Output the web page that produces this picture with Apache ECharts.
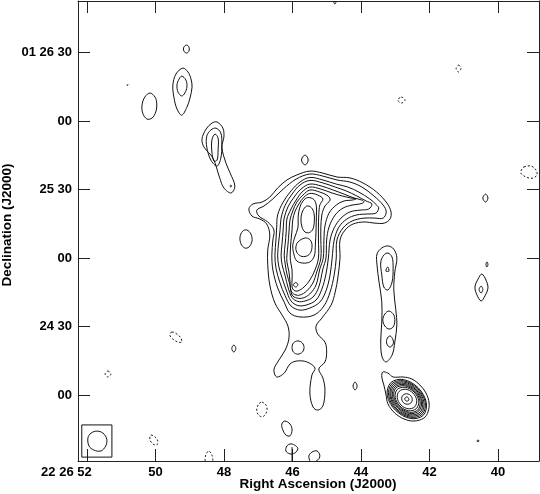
<!DOCTYPE html>
<html>
<head>
<meta charset="utf-8">
<script src="https://cdn.jsdelivr.net/npm/echarts@6/dist/echarts.min.js"></script>
<style>html,body{margin:0;padding:0;background:#fff}#chart{width:540px;height:494px}</style>
</head>
<body>
<div id="chart"></div>
<script>
// ---- axes (RA seconds of 22h26m, Dec arcsec offset from +01 24 00) ----
const xTickValues = [52, 50, 48, 46, 44, 42, 40];
const xTickLabels = ['22 26 52', '50', '48', '46', '44', '42', '40'];
const yTickValues = [150, 120, 90, 60, 30, 0];
const yTickLabels = ['01 26 30', '00', '25 30', '00', '24 30', '00'];
const raRange = [38.80, 52.26];
const decRange = [-28.9, 172.6];

// ---- contours, [RA s, Dec offset arcsec] ----
const blobA = [[49.09,153.3],[49.02,152.4],[49.02,150.7],[49.09,149.8],[49.17,150.7],[49.17,152.4]];
const blobB1 = [[49.20,143.2],[49.05,141.5],[48.96,138.4],[48.93,134.9],[48.99,130.1],[49.08,126.1],[49.23,122.6],[49.37,125.3],[49.46,130.5],[49.49,135.8],[49.40,140.6]];
const blobB2 = [[49.23,139.7],[49.11,138.0],[49.08,134.9],[49.14,132.3],[49.23,131.0],[49.34,132.7],[49.37,135.8],[49.31,138.4]];
const blobC = [[50.16,132.3],[50.01,130.5],[49.96,127.5],[49.99,124.0],[50.10,121.3],[50.25,120.9],[50.37,123.5],[50.39,127.0],[50.31,130.5]];
const blobD1 = [[48.20,119.6],[48.03,116.9],[48.00,113.0],[48.06,108.6],[47.94,101.6],[47.82,97.3],[47.68,91.5],[47.79,88.5],[48.00,90.7],[48.12,95.0],[48.32,103.8],[48.58,108.6],[48.64,112.1],[48.52,116.5],[48.35,119.1]];
const blobD2 = [[48.23,116.9],[48.09,114.8],[48.06,109.5],[48.09,103.8],[48.20,100.3],[48.38,102.9],[48.50,108.6],[48.50,113.4],[48.38,116.1]];
const blobD3 = [[48.26,114.3],[48.17,112.5],[48.17,107.3],[48.20,102.9],[48.29,102.5],[48.35,106.4],[48.35,111.7]];
const dotD = [[47.80,92.0],[47.78,91.5],[47.80,91.1],[47.82,91.5]];
const topDot = [[44.76,172.6],[44.73,171.9],[44.76,171.3],[44.79,171.9]];
const blobE = [[45.63,105.1],[45.55,103.8],[45.55,102.1],[45.63,100.8],[45.72,102.1],[45.72,103.8]];
const blobF = [[47.33,72.3],[47.21,70.5],[47.18,67.4],[47.27,64.8],[47.39,64.4],[47.50,66.2],[47.53,69.2],[47.45,71.8]];
const blobG4 = [[40.36,88.0],[40.29,86.3],[40.36,84.5],[40.44,86.3]];
const blobI2 = [[47.71,21.9],[47.65,20.4],[47.71,18.8],[47.77,20.4]];
const blobJ1 = [[44.17,5.7],[44.11,3.9],[44.17,2.2],[44.23,3.9]];
const blobJ2 = [[40.32,58.3],[40.29,57.2],[40.32,56.1],[40.35,57.2]];
const blobJ3 = [[40.47,53.0],[40.35,50.4],[40.29,46.9],[40.38,43.4],[40.49,41.2],[40.61,43.8],[40.67,47.3],[40.58,50.8]];
const blobJ3b = [[40.49,47.7],[40.44,46.2],[40.49,44.7],[40.55,46.2]];
const blobJ4 = [[40.58,-19.7],[40.55,-20.1],[40.58,-20.5],[40.61,-20.1]];
const blobJ5 = [[46.22,-11.4],[46.07,-12.7],[46.01,-15.3],[46.07,-17.9],[46.19,-17.5],[46.28,-15.3],[46.31,-12.7]];
const blobJ6 = [[46.04,-21.4],[45.90,-22.3],[45.84,-23.6],[45.93,-25.4],[46.07,-25.8],[46.19,-24.5],[46.16,-22.3]];
const beamEllipse = [[51.71,-15.8],[51.53,-16.7],[51.42,-19.3],[51.45,-22.3],[51.59,-24.5],[51.80,-24.1],[51.94,-22.3],[51.97,-18.8],[51.88,-16.7]];
const beamBox = [[52.15,-13.1],[51.27,-13.1],[51.27,-27.2],[52.15,-27.2]];

// jet near RA 43 s
const jetK1 = [[43.21,65.3],[43.04,63.9],[42.95,60.0],[43.01,53.9],[43.04,46.0],[42.98,37.3],[42.95,30.7],[43.01,23.2],[43.09,17.5],[43.27,14.5],[43.39,17.1],[43.42,24.1],[43.39,32.0],[43.39,40.8],[43.47,49.5],[43.53,57.0],[43.53,61.8],[43.39,64.4]];
const jetK2 = [[43.21,62.2],[43.09,60.4],[43.06,55.6],[43.09,49.5],[43.21,46.0],[43.33,47.3],[43.39,52.6],[43.42,58.3],[43.33,61.3]];
const jetK3 = [[43.22,56.1],[43.18,54.3],[43.27,54.3]];
const jetK4 = [[43.18,36.8],[43.04,35.1],[43.01,32.4],[43.06,29.8],[43.18,28.9],[43.30,30.2],[43.36,32.9],[43.30,35.5]];
const jetK5 = [[43.15,25.9],[43.06,24.1],[43.06,22.3],[43.15,21.0],[43.24,22.3],[43.24,24.5]];

// compact source near RA 42.7 s
const cmp1 = [[43.36,10.1],[43.21,9.6],[43.06,7.9],[42.77,7.9],[42.51,7.0],[42.28,4.4],[42.10,0.9],[42.01,-3.5],[42.04,-7.4],[42.16,-10.1],[42.45,-11.4],[42.74,-10.5],[43.01,-7.9],[43.21,-3.9],[43.27,0.4],[43.33,4.4],[43.39,7.9]];
const cmp2 = [[42.18,-8.89],[42.09,-3.28],[42.33,3.20],[42.76,6.79],[43.13,5.39],[43.23,-0.22],[42.99,-6.70],[42.55,-10.29]];
const cmp3 = [[42.21,-8.41],[42.12,-3.17],[42.35,2.90],[42.75,6.24],[43.10,4.91],[43.19,-0.33],[42.97,-6.40],[42.56,-9.74]];
const cmp4 = [[42.24,-7.94],[42.16,-3.06],[42.37,2.59],[42.74,5.70],[43.07,4.44],[43.15,-0.44],[42.95,-6.09],[42.57,-9.20]];
const cmp5 = [[42.27,-7.48],[42.20,-2.95],[42.39,2.28],[42.74,5.15],[43.04,3.98],[43.12,-0.55],[42.92,-5.78],[42.58,-8.65]];
const cmp6 = [[42.31,-7.01],[42.23,-2.85],[42.41,1.97],[42.73,4.60],[43.01,3.51],[43.08,-0.65],[42.90,-5.47],[42.58,-8.10]];
const cmp7 = [[42.34,-6.55],[42.27,-2.74],[42.43,1.66],[42.72,4.05],[42.98,3.05],[43.04,-0.76],[42.88,-5.16],[42.59,-7.55]];
const cmp8 = [[42.38,-5.93],[42.31,-2.52],[42.45,1.35],[42.71,3.40],[42.94,2.43],[43.00,-0.98],[42.86,-4.85],[42.61,-6.90]];
const cmp9 = [[42.43,-5.16],[42.37,-2.30],[42.48,0.88],[42.69,2.52],[42.88,1.66],[42.94,-1.20],[42.83,-4.38],[42.62,-6.02]];
const cmp10 = [[42.54,-3.45],[42.50,-1.86],[42.55,-0.20],[42.66,0.55],[42.77,-0.05],[42.81,-1.64],[42.76,-3.30],[42.65,-4.05]];
const cmp11 = [[42.61,-2.43],[42.60,-1.79],[42.62,-1.13],[42.66,-0.83],[42.70,-1.07],[42.72,-1.71],[42.70,-2.37],[42.66,-2.67]];

// main source
const mainL1 = [[46.16,94.2],[45.87,96.4],[45.49,98.1],[45.11,97.2],[44.70,95.5],[44.32,95.1],[43.94,92.9],[43.54,88.9],[43.24,84.1],[43.12,80.2],[43.15,77.1],[43.32,75.3],[43.59,75.3],[43.91,75.8],[44.23,74.9],[44.46,72.3],[44.61,67.9],[44.61,60.0],[44.67,51.7],[44.75,45.1],[44.87,39.4],[45.14,33.7],[45.31,30.2],[45.26,26.7],[45.05,23.2],[45.00,18.8],[45.05,14.5],[45.23,11.4],[45.11,7.5],[45.05,2.2],[45.11,-4.8],[45.26,-6.6],[45.40,-5.2],[45.49,0.9],[45.43,8.8],[45.34,11.8],[45.58,14.5],[45.87,14.9],[46.07,13.6],[46.24,9.6],[46.46,7.9],[46.54,11.0],[46.43,14.5],[46.21,19.7],[46.10,25.0],[46.13,30.2],[46.30,35.0],[46.51,40.3],[46.66,48.2],[46.72,57.0],[46.72,63.5],[46.66,70.1],[46.75,74.9],[46.95,77.1],[47.18,78.4],[47.27,81.5],[47.15,83.7],[46.89,84.5],[46.66,86.7],[46.43,90.7]];
const mainL2 = [[45.49,96.8],[45.11,95.9],[44.70,94.2],[44.32,93.3],[43.97,91.1],[43.62,87.2],[43.35,83.2],[43.26,80.2],[43.35,77.5],[43.59,77.5],[43.91,77.5],[44.26,76.2],[44.52,73.2],[44.70,67.9],[44.72,60.0],[44.78,52.6],[44.90,45.1],[45.08,39.0],[45.37,35.0],[45.78,34.2],[46.07,35.9],[46.24,40.7],[46.43,46.9],[46.57,54.8],[46.60,61.3],[46.57,67.9],[46.54,72.3],[46.72,75.8],[46.98,78.4],[47.04,81.0],[46.83,82.8],[46.57,85.9],[46.27,90.2],[45.89,94.6]];
const mainL3 = [[45.49,95.3],[45.11,94.2],[44.72,92.4],[44.38,91.1],[44.06,88.9],[43.74,85.9],[43.54,83.2],[43.48,81.9],[43.56,79.7],[43.80,79.3],[44.12,78.9],[44.41,77.1],[44.64,73.6],[44.78,67.9],[44.84,60.0],[44.90,52.6],[45.02,45.6],[45.20,40.7],[45.49,38.1],[45.78,37.2],[46.04,39.0],[46.21,43.4],[46.36,49.1],[46.48,55.6],[46.51,61.3],[46.48,67.9],[46.46,73.2],[46.43,78.9],[46.27,84.5],[46.04,89.4],[45.78,93.3]];
const mainL4 = [[45.49,94.0],[45.11,92.9],[44.75,91.1],[44.43,89.4],[44.12,87.2],[43.85,85.0],[43.68,83.7],[43.77,81.5],[44.03,81.0],[44.32,80.2],[44.58,77.5],[44.78,73.2],[44.90,67.9],[44.95,60.0],[45.02,53.0],[45.14,46.4],[45.31,41.6],[45.60,39.4],[45.84,39.2],[46.04,41.2],[46.18,46.0],[46.30,51.3],[46.40,56.5],[46.43,61.3],[46.40,67.0],[46.36,72.3],[46.33,77.5],[46.21,83.2],[46.01,88.0],[45.78,92.0]];
const mainL5 = [[45.49,92.4],[45.14,91.5],[44.81,89.8],[44.49,88.0],[44.20,86.3],[43.97,85.4],[43.91,84.5],[44.03,83.7],[44.26,83.2],[44.52,81.9],[44.75,78.9],[44.93,73.6],[45.00,67.9],[45.02,60.0],[45.11,55.2],[45.23,47.3],[45.40,42.9],[45.63,41.2],[45.84,41.0],[46.01,42.7],[46.13,47.3],[46.21,52.1],[46.30,57.0],[46.33,61.3],[46.30,66.6],[46.27,72.3],[46.24,77.5],[46.13,82.4],[45.95,86.7],[45.75,90.2]];
const mainL6 = [[45.49,91.1],[45.17,90.2],[44.84,88.5],[44.55,87.2],[44.29,86.3],[44.14,85.9],[44.26,85.4],[44.49,85.0],[44.72,83.2],[44.93,79.7],[45.05,74.0],[45.08,67.9],[45.10,60.0],[45.20,55.2],[45.31,48.2],[45.49,44.3],[45.69,42.5],[45.87,42.5],[46.01,43.8],[46.07,48.2],[46.16,53.0],[46.21,57.4],[46.24,61.3],[46.21,66.2],[46.18,71.8],[46.16,77.1],[46.04,81.5],[45.89,85.4],[45.72,88.9]];
const mainL7 = [[45.49,89.8],[45.20,88.9],[44.96,87.2],[44.90,85.4],[45.05,82.8],[45.14,78.9],[45.17,73.2],[45.17,67.9],[45.17,60.0],[45.29,53.9],[45.40,49.1],[45.58,45.6],[45.78,43.8],[45.93,44.0],[46.04,45.6],[46.07,49.5],[46.10,53.9],[46.16,58.3],[46.16,61.3],[46.13,65.7],[46.10,71.4],[46.07,76.7],[45.99,80.6],[45.87,84.5],[45.69,87.6]];
const mainL8 = [[45.49,88.3],[45.26,87.6],[45.11,85.9],[45.20,83.2],[45.23,78.9],[45.24,73.2],[45.24,67.9],[45.24,60.0],[45.34,54.8],[45.49,50.4],[45.66,47.3],[45.84,45.6],[45.95,45.8],[46.01,47.3],[46.01,50.4],[46.01,54.8],[46.06,59.1],[46.06,63.5],[46.04,67.9],[46.01,72.3],[45.99,76.7],[45.93,80.2],[45.81,83.7],[45.66,86.7]];
const mainL9 = [[45.55,86.5],[45.37,85.6],[45.30,82.8],[45.30,78.4],[45.31,72.3],[45.33,65.7],[45.36,60.9],[45.49,58.3],[45.69,57.8],[45.87,58.7],[45.95,61.3],[45.99,65.3],[45.93,69.2],[45.84,73.2],[45.83,78.4],[45.78,82.4],[45.69,85.0]];
const mainPeakN = [[45.58,82.8],[45.45,82.1],[45.37,79.7],[45.36,76.2],[45.40,72.7],[45.50,71.2],[45.63,71.4],[45.72,73.6],[45.75,77.1],[45.70,80.6]];
const mainPeakS = [[45.63,68.8],[45.49,68.1],[45.43,66.2],[45.45,63.1],[45.55,61.1],[45.72,60.7],[45.85,62.0],[45.90,64.4],[45.84,67.0]];
const mainKnot = [[45.90,49.3],[45.84,48.3],[45.90,47.3],[45.97,48.3]];
const mainLowKnot = [[45.84,23.7],[45.71,22.8],[45.66,20.8],[45.71,18.8],[45.84,17.9],[45.97,18.8],[46.01,20.8],[45.97,22.8]];

// negative (dashed) contours
const negG1 = [[42.82,130.5],[42.71,129.2],[42.82,127.9],[42.92,129.2]];
const negG2 = [[41.15,144.5],[41.08,143.0],[41.15,141.5],[41.22,143.0]];
const negG3 = [[39.24,99.9],[39.03,100.3],[38.89,98.6],[38.86,96.4],[38.98,95.0],[39.18,95.5],[39.33,97.2],[39.30,99.0]];
const negI1 = [[49.52,27.6],[49.37,26.7],[49.26,25.0],[49.23,23.2],[49.34,23.2],[49.49,24.5],[49.58,26.3]];
const negI3 = [[51.39,10.5],[51.30,9.2],[51.39,7.9],[51.47,9.2]];
const negI4 = [[46.89,-3.1],[46.77,-4.4],[46.74,-6.6],[46.80,-8.7],[46.89,-9.6],[47.01,-8.3],[47.04,-6.1],[46.98,-3.9]];
const negI5 = [[50.13,-17.5],[50.01,-18.4],[49.93,-20.1],[49.96,-21.9],[50.07,-21.5],[50.16,-19.7],[50.16,-18.4]];
const negI6 = [[48.55,-28.9],[48.53,-26.3],[48.44,-24.5],[48.35,-26.3],[48.32,-28.9]];
const negTiny = [[50.83,136.2],[50.80,135.3],[50.77,136.2]];

// open solid pieces cut by the frame
const blobJ7 = [[45.49,-28.9],[45.52,-26.7],[45.43,-25.0],[45.28,-24.5],[45.20,-26.3],[45.23,-28.0],[45.31,-28.9]];
const stickJ6 = [[46.01,-22.8],[46.01,-28.9]];

const solidClosed = [blobA, blobB1, blobB2, blobC, blobD1, blobD2, blobD3, dotD, topDot, blobE, blobF, blobG4,
  blobI2, blobJ1, blobJ2, blobJ3, blobJ3b, blobJ4, blobJ5, blobJ6, beamEllipse,
  jetK1, jetK2, jetK3, jetK4, jetK5,
  cmp1, cmp2, cmp3, cmp4, cmp5, cmp6, cmp7, cmp8, cmp9, cmp10, cmp11,
  mainL1, mainL2, mainL3, mainL4, mainL5, mainL6, mainL7, mainL8, mainL9, mainPeakN, mainPeakS, mainKnot, mainLowKnot];
const dashedClosed = [negG1, negG2, negG3, negI1, negI3, negI4, negI5];
const dashedOpen = [negI6, negTiny];
const solidOpen = [blobJ7];
const straightOpen = [stickJ6];
const straightClosed = [beamBox];

function contourSeries(list, closed, dashed, smooth) {
  return {
    type: 'custom', coordinateSystem: 'cartesian2d', xAxisIndex: 0, yAxisIndex: 0,
    clip: true, silent: true, animation: false,
    data: list.map(function (c, i) { return [c[0][0], c[0][1], i]; }),
    renderItem: function (params, api) {
      const pts = list[params.dataIndex].map(function (p) { return api.coord(p); });
      return {
        type: closed ? 'polygon' : 'polyline',
        shape: { points: pts, smooth: smooth },
        style: { fill: 'none', stroke: '#111', lineWidth: 1, lineDash: dashed ? [2, 2] : null }
      };
    }
  };
}

const FONT = 'Liberation Sans, Arial, Helvetica, sans-serif';
const chart = echarts.init(document.getElementById('chart'), null, { renderer: 'canvas' });
function axisCommon(extra) {
  return Object.assign({
    type: 'value', splitLine: { show: false },
    axisLine: { show: true, onZero: false, lineStyle: { color: '#222', width: 1 } },
    axisTick: { show: true, inside: true, length: 12, lineStyle: { color: '#222', width: 1 } }
  }, extra);
}
chart.setOption({
  animation: false,
  backgroundColor: '#fff',
  grid: { left: 78, right: 1, top: 1, bottom: 33, containLabel: false },
  xAxis: [
    axisCommon({ position: 'bottom', inverse: true, min: raRange[0], max: raRange[1],
      axisTick: { show: true, inside: true, length: 12, customValues: xTickValues, lineStyle: { color: '#222' } },
      axisLabel: { customValues: xTickValues, margin: 5, color: '#000', fontFamily: FONT, fontWeight: 'bold', fontSize: 13,
        formatter: function (v) {
          const i = xTickValues.findIndex(function (t) { return Math.abs(t - v) < 1e-6; });
          if (i === 0) return '{lead|' + xTickLabels[0] + '}';
          return i >= 0 ? xTickLabels[i] : '';
        },
        rich: { lead: { padding: [0, 41, 0, 0], color: '#000', fontFamily: FONT, fontWeight: 'bold', fontSize: 13 } }
      } }),
    axisCommon({ position: 'top', inverse: true, min: raRange[0], max: raRange[1],
      axisTick: { show: true, inside: true, length: 12, customValues: xTickValues, lineStyle: { color: '#222' } },
      axisLabel: { show: false } })
  ],
  yAxis: [
    axisCommon({ position: 'left', min: decRange[0], max: decRange[1],
      axisTick: { show: true, inside: true, length: 12, customValues: yTickValues, lineStyle: { color: '#222' } },
      axisLabel: { customValues: yTickValues, margin: 6, color: '#000', fontFamily: FONT, fontWeight: 'bold', fontSize: 13,
        formatter: function (v) {
          const i = yTickValues.findIndex(function (t) { return Math.abs(t - v) < 1e-6; });
          return i >= 0 ? yTickLabels[i] : '';
        } } }),
    axisCommon({ position: 'right', min: decRange[0], max: decRange[1],
      axisTick: { show: true, inside: true, length: 12, customValues: yTickValues, lineStyle: { color: '#222' } },
      axisLabel: { show: false } })
  ],
  graphic: [
    { type: 'text', x: 318, y: 484, silent: true,
      style: { text: 'Right Ascension (J2000)', font: 'bold 13.5px ' + FONT, fill: '#000',
        align: 'center', verticalAlign: 'middle', textAlign: 'center', textVerticalAlign: 'middle' } },
    { type: 'text', x: 7, y: 225, rotation: Math.PI / 2, silent: true,
      style: { text: 'Declination (J2000)', font: 'bold 13.5px ' + FONT, fill: '#000',
        align: 'center', verticalAlign: 'middle', textAlign: 'center', textVerticalAlign: 'middle' } }
  ],
  series: [
    contourSeries(solidClosed, true, false, 0.35),
    contourSeries(dashedClosed, true, true, 0.35),
    contourSeries(dashedOpen, false, true, 0.35),
    contourSeries(solidOpen, false, false, 0.35),
    contourSeries(straightOpen, false, false, 0),
    contourSeries(straightClosed, true, false, 0)
  ]
});
</script>
</body>
</html>
